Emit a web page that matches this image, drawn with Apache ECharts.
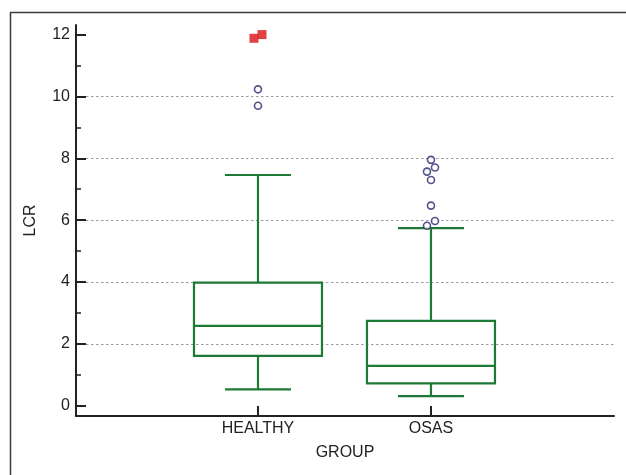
<!DOCTYPE html>
<html>
<head>
<meta charset="utf-8">
<script src="https://cdn.jsdelivr.net/npm/echarts@6/dist/echarts.min.js"></script>
<style>
  html, body { margin: 0; padding: 0; background: #fff; }
  #chart { width: 626px; height: 475px; }
</style>
</head>
<body>
<div id="chart"></div>
<script>
// ---------- DATA ----------
const categories = ['HEALTHY', 'OSAS'];
const lowerWhisker = [0.53, 0.31];
const q1 = [1.61, 0.72];
const median = [2.58, 1.29];
const q3 = [3.98, 2.74];
const upperWhisker = [7.46, 5.74];
const healthyOutliers = [10.23, 9.70];
const healthyFarOutliers = [11.88, 12.0];
const osasOutliers = [7.95, 7.70, 7.57, 7.30, 6.47, 5.97, 5.82];
const yTickValues = [0, 2, 4, 6, 8, 10, 12];
const yMinorTickValues = [1, 3, 5, 7, 9, 11];
const axisTitles = { x: 'GROUP', y: 'LCR' };

// ---------- STYLE ----------
const GREEN = '#1d7a35';
const NAVY = '#25256e';
const RED = '#dc1018';
const AXIS = '#222';
const FONT = "'Liberation Sans', Arial, sans-serif";
const BOX_W = 128;
const CAP_W = 66;
const healthyOutlierJitter = [0, 0];
const healthyFarJitter = [-4, 4];
const osasOutlierJitter = [0, 4, -4, 0, 0, 4, -4];

const boxData = categories.map((c, i) => [i + 1, lowerWhisker[i], q1[i], median[i], q3[i], upperWhisker[i]]);

function pts(groupIdx, values, jitter) {
  return values.map((v, i) => ({ value: [groupIdx, v], symbolOffset: [jitter[i] || 0, 0] }));
}

const chart = echarts.init(document.getElementById('chart'), null, { renderer: 'canvas' });

const option = {
  animation: false,
  backgroundColor: '#fff',
  textStyle: { fontFamily: FONT },
  graphic: [{
    type: 'rect',
    left: 8, top: 10,
    shape: { x: 0, y: 0, width: 700, height: 600 },
    style: { fill: 'none', stroke: '#3a3a3a', lineWidth: 1.5 },
    z: -10
  }],
  grid: { left: 76, right: 12, top: 25, bottom: 59, containLabel: false },
  xAxis: {
    type: 'value',
    min: -0.052,
    max: 3.058,
    name: axisTitles.x,
    nameLocation: 'middle',
    nameGap: 29,
    nameTextStyle: { fontSize: 16, color: AXIS, fontFamily: FONT },
    axisLine: { show: true, onZero: false, lineStyle: { color: AXIS, width: 2 } },
    axisTick: { show: true, inside: true, length: 10, customValues: [1, 2], lineStyle: { color: AXIS, width: 2 } },
    axisLabel: {
      customValues: [1, 2],
      formatter: v => categories[Math.round(v) - 1] || '',
      fontSize: 16, color: AXIS, fontFamily: FONT, margin: 5
    },
    splitLine: { show: false }
  },
  yAxis: [{
    type: 'value',
    min: -0.333,
    max: 12.31,
    splitNumber: 6,
    name: axisTitles.y,
    nameLocation: 'middle',
    nameGap: 37,
    nameTextStyle: { fontSize: 16, color: AXIS, fontFamily: FONT },
    axisLine: { show: true, onZero: false, lineStyle: { color: AXIS, width: 2 } },
    axisTick: { show: true, inside: true, length: 10, customValues: yTickValues, lineStyle: { color: AXIS, width: 2 } },
    axisLabel: { customValues: yTickValues, fontSize: 16, color: AXIS, fontFamily: FONT, margin: 6 },
    splitLine: {
      show: true, showMinLine: false, showMaxLine: false,
      lineStyle: { color: '#9a9a9a', width: 1, type: [2.5, 2.5] }
    }
  }, {
    type: 'value',
    position: 'left',
    offset: 0,
    min: -0.333,
    max: 12.31,
    axisLine: { show: false, onZero: false },
    axisTick: { show: true, inside: true, length: 5, customValues: yMinorTickValues, lineStyle: { color: AXIS, width: 1.5 } },
    axisLabel: { show: false },
    splitLine: { show: false }
  }],
  series: [{
    type: 'custom',
    name: 'box',
    data: boxData,
    encode: { x: 0, y: [1, 2, 3, 4, 5] },
    renderItem: function (params, api) {
      const x = api.value(0);
      const lo = api.coord([x, api.value(1)]);
      const a = api.coord([x, api.value(2)]);
      const m = api.coord([x, api.value(3)]);
      const b = api.coord([x, api.value(4)]);
      const hi = api.coord([x, api.value(5)]);
      const cx = lo[0];
      const st = { stroke: GREEN, lineWidth: 2.2, fill: 'none' };
      return {
        type: 'group',
        children: [
          { type: 'line', shape: { x1: cx, y1: b[1], x2: cx, y2: hi[1] }, style: st },
          { type: 'line', shape: { x1: cx, y1: a[1], x2: cx, y2: lo[1] }, style: st },
          { type: 'line', shape: { x1: cx - CAP_W / 2, y1: hi[1], x2: cx + CAP_W / 2, y2: hi[1] }, style: st },
          { type: 'line', shape: { x1: cx - CAP_W / 2, y1: lo[1], x2: cx + CAP_W / 2, y2: lo[1] }, style: st },
          { type: 'rect', shape: { x: cx - BOX_W / 2, y: b[1], width: BOX_W, height: a[1] - b[1] }, style: st },
          { type: 'line', shape: { x1: cx - BOX_W / 2, y1: m[1], x2: cx + BOX_W / 2, y2: m[1] }, style: st }
        ]
      };
    },
    z: 3
  }, {
    type: 'scatter',
    name: 'outliers',
    data: pts(1, healthyOutliers, healthyOutlierJitter).concat(pts(2, osasOutliers, osasOutlierJitter)),
    symbol: 'circle',
    symbolSize: 7,
    itemStyle: { color: '#fff', borderColor: NAVY, borderWidth: 1.6 },
    z: 4
  }, {
    type: 'scatter',
    name: 'far outliers',
    data: pts(1, healthyFarOutliers, healthyFarJitter),
    symbol: 'rect',
    symbolSize: 9,
    itemStyle: { color: RED },
    z: 4
  }]
};

chart.setOption(option);
</script>
</body>
</html>
